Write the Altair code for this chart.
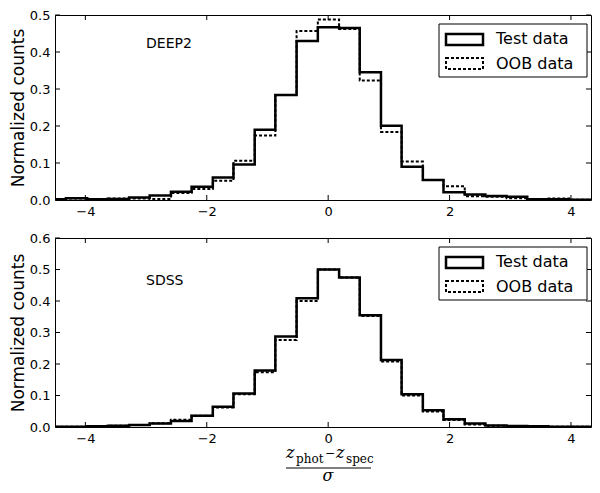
import altair as alt
import pandas as pd

# Bin edges of the histograms (x = (z_phot - z_spec)/sigma)
edges = [-4.66, -4.32, -3.97, -3.63, -3.28, -2.94, -2.59, -2.25, -1.90, -1.56,
         -1.21, -0.87, -0.52, -0.17, 0.18, 0.52, 0.87, 1.21, 1.56, 1.90,
         2.25, 2.59, 2.94, 3.28, 3.63, 3.97, 4.32, 4.66]

deep2_test = [0.002, 0.005, 0.002, 0.003, 0.007, 0.012, 0.022, 0.036, 0.061, 0.096,
              0.190, 0.284, 0.430, 0.467, 0.465, 0.345, 0.201, 0.090, 0.054, 0.021,
              0.015, 0.011, 0.009, 0.002, 0.002, 0.001, 0.001]
deep2_oob = [0.001, 0.004, 0.002, 0.004, 0.004, 0.003, 0.019, 0.030, 0.052, 0.106,
             0.174, 0.284, 0.457, 0.488, 0.462, 0.323, 0.184, 0.104, 0.054, 0.037,
             0.010, 0.009, 0.005, 0.002, 0.004, 0.001, 0.001]

sdss_test = [0.001, 0.001, 0.002, 0.004, 0.006, 0.011, 0.019, 0.036, 0.064, 0.106,
             0.179, 0.287, 0.409, 0.500, 0.475, 0.355, 0.213, 0.104, 0.053, 0.025,
             0.011, 0.005, 0.003, 0.002, 0.001, 0.001, 0.000]
sdss_oob = [0.001, 0.001, 0.002, 0.004, 0.006, 0.012, 0.023, 0.036, 0.062, 0.104,
            0.174, 0.276, 0.400, 0.500, 0.475, 0.352, 0.208, 0.100, 0.049, 0.022,
            0.008, 0.004, 0.003, 0.002, 0.001, 0.001, 0.000]

x_ticks = [-4, -2, 0, 2, 4]
y_ticks_top = [0.0, 0.1, 0.2, 0.3, 0.4, 0.5]
y_ticks_bottom = [0.0, 0.1, 0.2, 0.3, 0.4, 0.5, 0.6]
series_names = ["Test data", "OOB data"]

W = 536
X_DOMAIN = [-4.5, 4.33]


def step_frame(values):
    xs = list(edges)
    ys = list(values) + [0.0]
    return pd.DataFrame({"x": xs, "y": ys})


def panel(test_vals, oob_vals, ymax, yticks, label, label_y, H, with_xtitle):
    xs = alt.Scale(domain=X_DOMAIN, nice=False, zero=False)
    ys = alt.Scale(domain=[0, ymax], nice=False, zero=False)
    xax = alt.Axis(values=x_ticks, format="d", title=None, ticks=False,
                   domain=False, grid=False, labelFontSize=13, labelColor="black",
                   labelFont="DejaVu Sans", labelPadding=5)
    yax = alt.Axis(values=yticks, format=".1f", title="Normalized counts",
                   ticks=False, domain=False, grid=False, labelFontSize=13,
                   labelColor="black", labelFont="DejaVu Sans", labelPadding=5,
                   labelOverlap=False,
                   titleFontSize=17, titleFont="DejaVu Sans", titleFontWeight="normal",
                   titleColor="black", titlePadding=2)

    def X(f):
        return alt.X(f, scale=xs, axis=xax, title=None)

    def Y(f):
        return alt.Y(f, scale=ys, axis=yax, title="Normalized counts")

    test = alt.Chart(step_frame(test_vals)).mark_line(
        interpolate="step-after", color="black", strokeWidth=2.5, clip=True
    ).encode(x=X("x:Q"), y=Y("y:Q"))
    oob = alt.Chart(step_frame(oob_vals)).mark_line(
        interpolate="step-after", color="black", strokeWidth=2, strokeDash=[3, 2], clip=True
    ).encode(x=X("x:Q"), y=Y("y:Q"))

    xt = pd.DataFrame({"t": x_ticks})
    yt = pd.DataFrame({"t": yticks})
    tick_b = alt.Chart(xt).mark_rule(color="black").encode(
        x=X("t:Q"), y=alt.value(H), y2=alt.value(H - 5))
    tick_t = alt.Chart(xt).mark_rule(color="black").encode(
        x=X("t:Q"), y=alt.value(0), y2=alt.value(5))
    tick_l = alt.Chart(yt).mark_rule(color="black").encode(
        y=Y("t:Q"), x=alt.value(0), x2=alt.value(5))
    tick_r = alt.Chart(yt).mark_rule(color="black").encode(
        y=Y("t:Q"), x=alt.value(W - 5), x2=alt.value(W))

    name = alt.Chart(pd.DataFrame({"s": [label]})).mark_text(
        align="left", baseline="middle", fontSize=14, font="DejaVu Sans", color="black"
    ).encode(text="s:N", x=alt.value(91), y=alt.value(label_y))

    # legend
    lx = 384
    box = alt.Chart(pd.DataFrame({"a": [0]})).mark_rect(
        fill="white", stroke="black", strokeWidth=1
    ).encode(x=alt.value(lx), x2=alt.value(lx + 148), y=alt.value(9), y2=alt.value(62))
    sw1 = alt.Chart(pd.DataFrame({"a": [0]})).mark_rect(
        fill="white", stroke="black", strokeWidth=2.5
    ).encode(x=alt.value(lx + 7), x2=alt.value(lx + 44), y=alt.value(19), y2=alt.value(30))
    sw2 = alt.Chart(pd.DataFrame({"a": [0]})).mark_rect(
        fill="white", stroke="black", strokeWidth=2, strokeDash=[3, 2]
    ).encode(x=alt.value(lx + 7), x2=alt.value(lx + 44), y=alt.value(43), y2=alt.value(54))
    lt1 = alt.Chart(pd.DataFrame({"s": [series_names[0]]})).mark_text(
        align="left", baseline="middle", fontSize=16, font="DejaVu Sans", color="black"
    ).encode(text="s:N", x=alt.value(lx + 57), y=alt.value(24))
    lt2 = alt.Chart(pd.DataFrame({"s": [series_names[1]]})).mark_text(
        align="left", baseline="middle", fontSize=16, font="DejaVu Sans", color="black"
    ).encode(text="s:N", x=alt.value(lx + 57), y=alt.value(49))

    layers = [test, oob, tick_b, tick_t, tick_l, tick_r, name, box, sw1, sw2, lt1, lt2]

    if with_xtitle:
        def txt(s, x, y, size, style="normal", align="left"):
            return alt.Chart(pd.DataFrame({"s": [s]})).mark_text(
                align=align, baseline="middle", fontSize=size, font="DejaVu Serif",
                fontStyle=style, color="black"
            ).encode(text="s:N", x=alt.value(x), y=alt.value(y))
        b = H
        layers += [
            txt("z", 231, b + 26, 16, "italic"),
            txt("phot", 241, b + 32, 12),
            txt("\u2212", 270, b + 26, 12),
            txt("z", 281, b + 26, 16, "italic"),
            txt("spec", 291, b + 32, 12),
            alt.Chart(pd.DataFrame({"a": [0]})).mark_rule(color="black", strokeWidth=1).encode(
                x=alt.value(231), x2=alt.value(316), y=alt.value(b + 41)),
            txt("\u03c3", 273, b + 49, 16, "italic", "center"),
        ]

    return alt.layer(*layers).properties(width=W, height=H)


top = panel(deep2_test, deep2_oob, 0.5, y_ticks_top, "DEEP2", 29, 185, False)
bottom = panel(sdss_test, sdss_oob, 0.6, y_ticks_bottom, "SDSS", 43, 189, True)

chart = alt.vconcat(top, bottom, spacing=38, bounds="flush").properties(
    padding={"top": 0, "left": 0, "right": 0, "bottom": 0},
    background="white",
).configure_view(stroke="black", strokeWidth=1)

chart.save("out.html", embed_options={"renderer": "svg", "actions": False})
